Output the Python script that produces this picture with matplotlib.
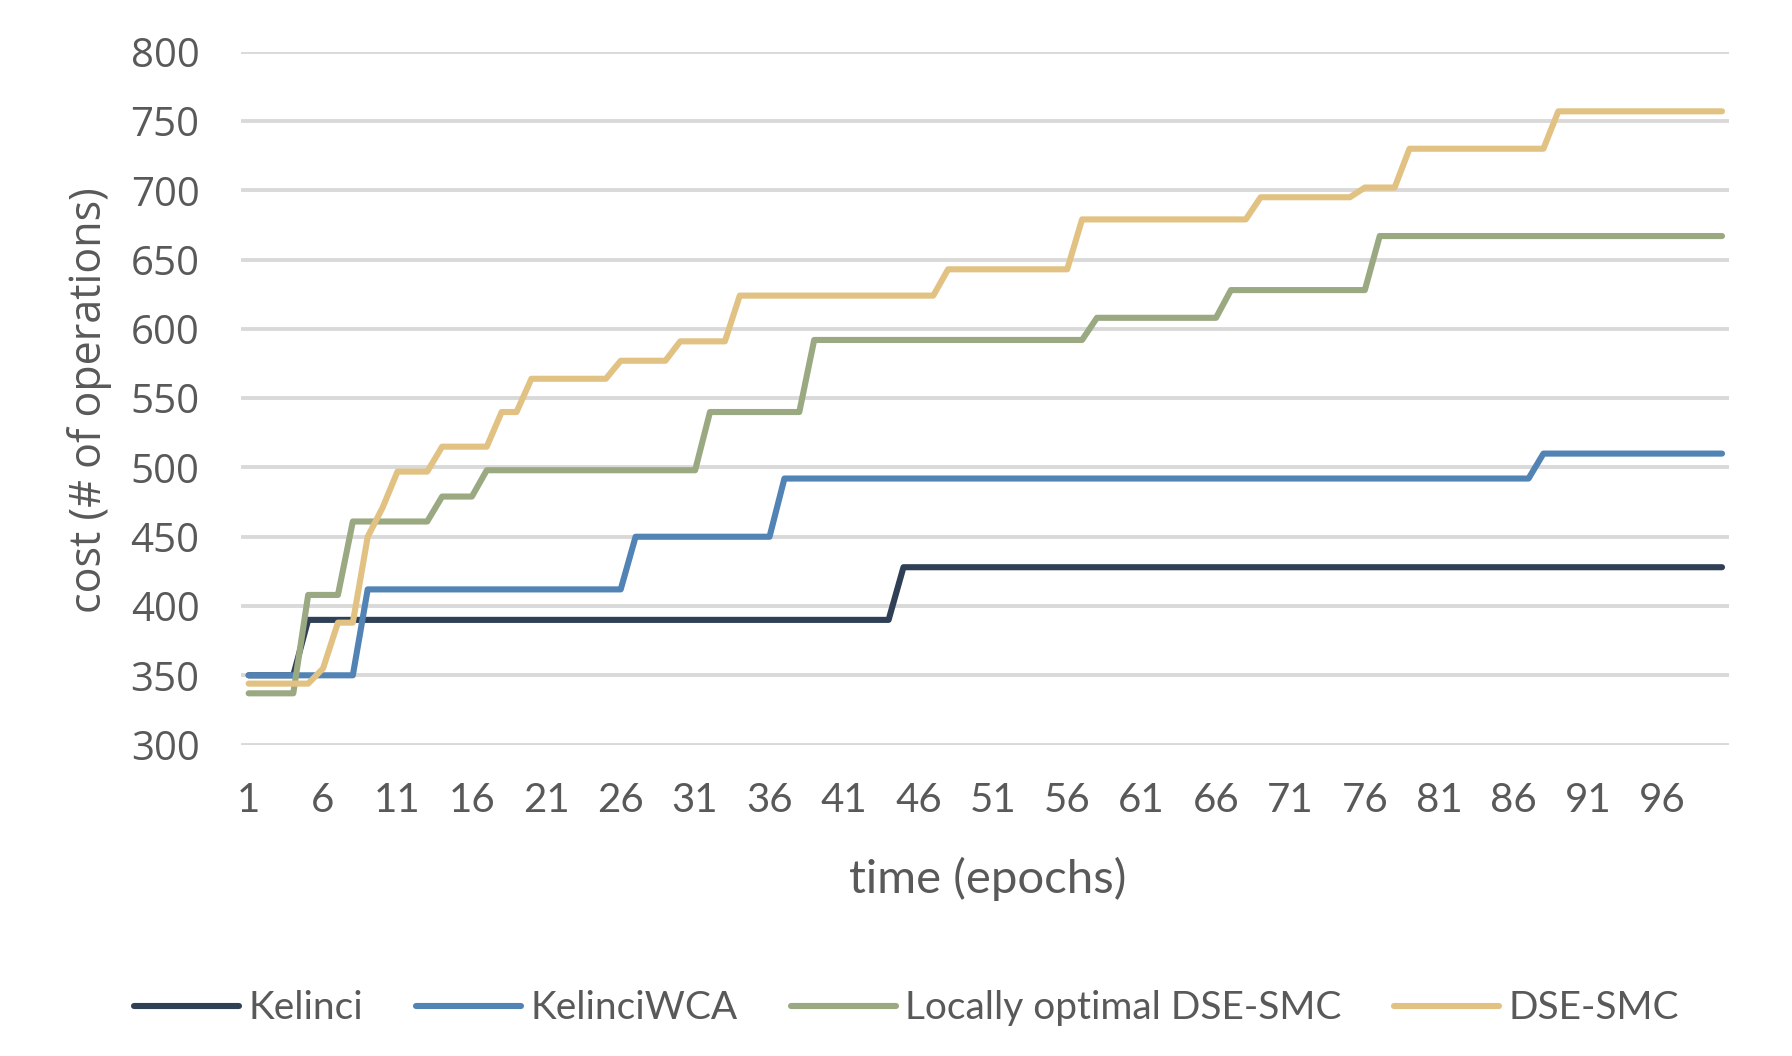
import matplotlib
matplotlib.use("Agg")
import matplotlib.pyplot as plt

# epochs 1..100
epochs = list(range(1, 101))

kelinci = [
    350, 350, 350, 350, 390, 390, 390, 390, 390, 390,
    390, 390, 390, 390, 390, 390, 390, 390, 390, 390,
    390, 390, 390, 390, 390, 390, 390, 390, 390, 390,
    390, 390, 390, 390, 390, 390, 390, 390, 390, 390,
    390, 390, 390, 390, 428, 428, 428, 428, 428, 428,
    428, 428, 428, 428, 428, 428, 428, 428, 428, 428,
    428, 428, 428, 428, 428, 428, 428, 428, 428, 428,
    428, 428, 428, 428, 428, 428, 428, 428, 428, 428,
    428, 428, 428, 428, 428, 428, 428, 428, 428, 428,
    428, 428, 428, 428, 428, 428, 428, 428, 428, 428,
]

kelinci_wca = [
    350, 350, 350, 350, 350, 350, 350, 350, 412, 412,
    412, 412, 412, 412, 412, 412, 412, 412, 412, 412,
    412, 412, 412, 412, 412, 412, 450, 450, 450, 450,
    450, 450, 450, 450, 450, 450, 492, 492, 492, 492,
    492, 492, 492, 492, 492, 492, 492, 492, 492, 492,
    492, 492, 492, 492, 492, 492, 492, 492, 492, 492,
    492, 492, 492, 492, 492, 492, 492, 492, 492, 492,
    492, 492, 492, 492, 492, 492, 492, 492, 492, 492,
    492, 492, 492, 492, 492, 492, 492, 510, 510, 510,
    510, 510, 510, 510, 510, 510, 510, 510, 510, 510,
]

local_dse = [
    337, 337, 337, 337, 408, 408, 408, 461, 461, 461,
    461, 461, 461, 479, 479, 479, 498, 498, 498, 498,
    498, 498, 498, 498, 498, 498, 498, 498, 498, 498,
    498, 540, 540, 540, 540, 540, 540, 540, 592, 592,
    592, 592, 592, 592, 592, 592, 592, 592, 592, 592,
    592, 592, 592, 592, 592, 592, 592, 608, 608, 608,
    608, 608, 608, 608, 608, 608, 628, 628, 628, 628,
    628, 628, 628, 628, 628, 628, 667, 667, 667, 667,
    667, 667, 667, 667, 667, 667, 667, 667, 667, 667,
    667, 667, 667, 667, 667, 667, 667, 667, 667, 667,
]

dse_smc = [
    344, 344, 344, 344, 344, 355, 388, 388, 450, 471,
    497, 497, 497, 515, 515, 515, 515, 540, 540, 564,
    564, 564, 564, 564, 564, 577, 577, 577, 577, 591,
    591, 591, 591, 624, 624, 624, 624, 624, 624, 624,
    624, 624, 624, 624, 624, 624, 624, 643, 643, 643,
    643, 643, 643, 643, 643, 643, 679, 679, 679, 679,
    679, 679, 679, 679, 679, 679, 679, 679, 695, 695,
    695, 695, 695, 695, 695, 702, 702, 702, 730, 730,
    730, 730, 730, 730, 730, 730, 730, 730, 757, 757,
    757, 757, 757, 757, 757, 757, 757, 757, 757, 757,
]

names = ["Kelinci", "KelinciWCA", "Locally optimal DSE-SMC", "DSE-SMC"]
colors = ["#2F4056", "#5183B5", "#9AA981", "#E2C283"]
xticks = list(range(1, 100, 5))
yticks = list(range(300, 801, 50))

txt = "#595959"

fig = plt.figure(figsize=(17.92, 10.56), dpi=100)
ax = fig.add_axes([0.1346, 0.2949, 0.8305, 0.6561])

for name, vals, c in zip(names, [kelinci, kelinci_wca, local_dse, dse_smc], colors):
    ax.plot(epochs, vals, color=c, lw=4.4, label=name,
            solid_capstyle="round", solid_joinstyle="round")

ax.set_xlim(0.5, 100.5)
ax.set_ylim(300, 800)
ax.set_yticks(yticks)
ax.set_xticks(xticks)
ax.grid(axis="y", color="#D9D9D9", lw=2.8)
ax.set_axisbelow(True)
for s in ax.spines.values():
    s.set_visible(False)
ax.tick_params(length=0)
ax.tick_params(axis="y", pad=30, labelcolor=txt)
ax.tick_params(axis="x", pad=27, labelcolor=txt)
for lb in ax.get_yticklabels():
    lb.set_fontfamily("Open Sans")
    lb.set_fontsize(29)
for lb in ax.get_xticklabels():
    lb.set_fontfamily("Lato")
    lb.set_fontsize(29)

fig.text(0.551, 0.168, "time (epochs)", ha="center", va="center",
         fontsize=34, color=txt, family="Lato")
fig.text(0.05, 0.621, "cost (# of operations)", ha="center", va="center",
         rotation=90, fontsize=31, color=txt, family="Open Sans")

leg = fig.legend(loc="center", bbox_to_anchor=(0.506, 0.045), ncol=4,
                 frameon=False, handlelength=2.7, handletextpad=0.25,
                 columnspacing=1.35, prop={"family": "Lato", "size": 28})
for t in leg.get_texts():
    t.set_color(txt)

fig.savefig("out.png", dpi=100)
